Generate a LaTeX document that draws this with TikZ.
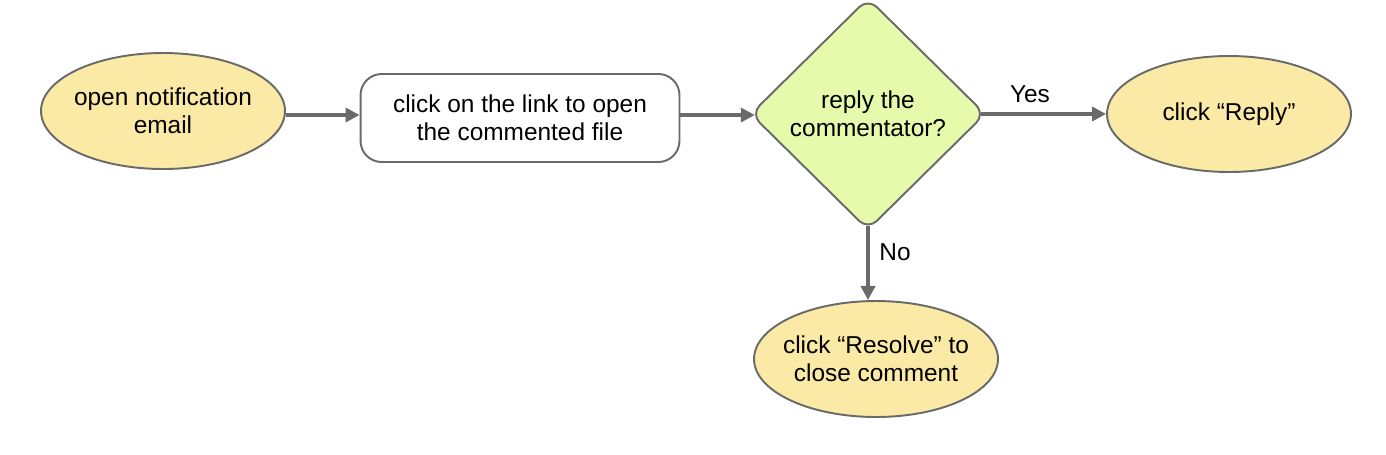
\documentclass[tikz,border=0pt]{standalone}
\usepackage{fontspec}
\setmainfont{Liberation Sans}
\usetikzlibrary{shapes.geometric,arrows.meta}

\definecolor{startfill}{HTML}{FBEAA5}
\definecolor{askfill}{HTML}{E5FAAB}
\definecolor{edgegray}{HTML}{6A6A6A}

\begin{document}
\begin{tikzpicture}[
x=0.02cm, y=-0.02cm,
every node/.style={
  font=\fontsize{13.9}{16}\selectfont,
  align=center
  },
terminal/.style={
  ellipse,
  draw=edgegray,
  line width=1.1pt,
  fill=startfill,
  minimum width=4.88cm,
  minimum height=2.32cm,
  inner sep=-0.25cm
  },
action/.style={
  rectangle,
  rounded corners=12pt,
  draw=edgegray,
  line width=1.1pt,
  fill=white,
  minimum width=6.38cm,
  minimum height=1.76cm
  },
decision/.style={
  diamond,
  rounded corners=7pt,
  draw=edgegray,
  line width=1.1pt,
  fill=askfill,
  minimum width=4.7cm,
  minimum height=4.64cm,
  inner sep=0pt
  },
flow/.style={
  draw=edgegray,
  line width=2.3pt,
  -{Triangle[length=8pt,width=8pt]}
  },
tag/.style={
  draw=none,
  fill=none
  }
]
\useasboundingbox (0,0) rectangle (1386,454);

\node[terminal] (email) at (163,111) {open notification\\email};
\node[action] (link) at (520,118) {click on the link to open\\the commented file};
\node[decision] (ask) at (868,114) {reply the\\commentator?};
\node[terminal] (reply) at (1229,114) {click ``Reply''};
\node[terminal] (resolve) at (876,359) {click ``Resolve'' to\\close comment};

\draw[flow] (email.east |- 0,115) -- (link.west |- 0,115);
\draw[flow, shorten >=-3pt] (link.east |- 0,115) -- (ask.west |- 0,115);
\draw[flow, shorten <=-3pt] (ask.east) -- (reply.west);
\draw[flow, shorten <=-3pt] (ask.south) -- (ask.south |- resolve.north);

\node[tag] (yes) at (1030,94) {Yes};
\node[tag] (no) at (895,252) {No};

\end{tikzpicture}
\end{document}
